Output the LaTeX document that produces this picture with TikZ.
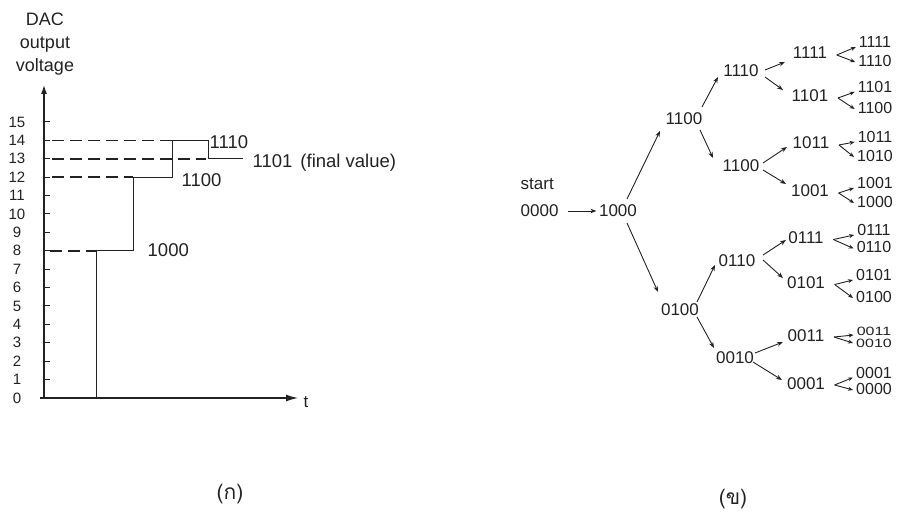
\documentclass[tikz,border=0pt]{standalone}
\usepackage{fontspec}
\setmainfont{Liberation Sans}
\newfontfamily\thaifont[Script=Thai]{Loma}
\usetikzlibrary{arrows.meta,calc}
\definecolor{ink}{HTML}{222222}
\begin{document}
\begin{tikzpicture}[x=1pt,y=1pt,
  every node/.style={text=ink},
  big/.style={font=\fontsize{18.5}{22}\selectfont, inner sep=1.5pt, text height=13pt, text depth=0pt},
  lbl/.style={font=\fontsize{17}{20}\selectfont, inner sep=1.5pt, text height=12pt, text depth=0pt},
  sm/.style={font=\fontsize{16}{18}\selectfont, inner sep=1pt, text height=11pt, text depth=0pt},
  axnum/.style={font=\fontsize{15}{17}\selectfont, inner sep=0pt},
  capt/.style={font=\thaifont\fontsize{21}{24}\selectfont, inner sep=1pt},
  arr/.style={draw=ink, line width=0.9pt, -{Stealth[length=6pt,width=4.5pt]}},
  arrs/.style={draw=ink, line width=0.9pt, -{Stealth[length=5pt,width=4pt]}},
  wave/.style={draw=ink, line width=1pt},
  axis/.style={draw=ink, line width=1.2pt},
  dsh/.style={draw=ink, line width=1.6pt, dash pattern=on 12pt off 6pt},
]
\useasboundingbox (0,0) rectangle (898,515);

% ---------- left: DAC output staircase ----------
\coordinate (O) at (44,117);
\coordinate (Ytop) at (44,430);
\coordinate (Xst) at (40,117);
\coordinate (Xend) at (298,117);
\draw[axis, -{Latex[length=9pt,width=6pt]}] (O) -- (Ytop);
\draw[axis, -{Latex[length=12pt,width=7pt]}] (Xst) -- (Xend);
\foreach \v in {1,...,15} \draw[wave] (44,{117+18.4*\v}) -- ++(6,0);
\foreach \v in {0,...,15} \node[axnum] (yl\v) at (17,{117+18.4*\v}) {\v};

\node[font=\fontsize{18}{23}\selectfont, align=center, inner sep=0pt] (dac) at (45,471) {DAC\\output\\voltage};
\node[lbl] (tlab) at (306,114) {t};

% dashed reference levels
\draw[dsh] (50,264.2) -- (96,264.2);
\draw[dsh] (52,337.8) -- (133,337.8);
\draw[dsh] (52,356.2) -- (206,356.2);
\draw[dsh] (52,374.6) -- (172,374.6);
% staircase
\draw[wave] (96,117) -- (96,264.2) -- (133,264.2) -- (133,337.8) -- (172,337.8)
  -- (172,374.6) -- (208,374.6) -- (208,356.2) -- (243,356.2);

\node[big, anchor=west] (L1110) at (208,373) {1110};
\node[big, anchor=west] (L1101) at (251,354) {1101\hspace{8pt}(final value)};
\node[big, anchor=west] (L1100) at (180,335) {1100};
\node[big, anchor=west] (L1000) at (146,265) {1000};

% ---------- right: SAR decision tree ----------
\node[lbl, anchor=west] (start) at (519,331) {start};
\node[lbl, anchor=west] (n0000) at (519,304) {0000};
\node[lbl] (n1000) at (618,304) {1000};

\node[lbl] (a1100) at (684,396) {1100};
\node[lbl] (a0100) at (680,206) {0100};

\node[lbl] (b1110) at (741,444) {1110};
\node[lbl] (b1100) at (741,349.5) {1100};
\node[lbl] (b0110) at (737,254) {0110};
\node[lbl] (b0010) at (735,158) {0010};

\node[lbl] (c1111) at (810,462) {1111};
\node[lbl] (c1101) at (810,419) {1101};
\node[lbl] (c1011) at (811,372) {1011};
\node[lbl] (c1001) at (810,324) {1001};
\node[lbl] (c0111) at (806,277.5) {0111};
\node[lbl] (c0101) at (806,232.5) {0101};
\node[lbl] (c0011) at (806,180) {0011};
\node[lbl] (c0001) at (806,132) {0001};

\node[sm] (sA1111) at (875,473) {1111};
\node[sm] (sB1111) at (875,454) {1110};
\node[sm] (sA1101) at (875,428) {1101};
\node[sm] (sB1101) at (875,407) {1100};
\node[sm] (sA1011) at (875,378) {1011};
\node[sm] (sB1011) at (875,359) {1010};
\node[sm] (sA1001) at (875,332) {1001};
\node[sm] (sB1001) at (875,313) {1000};
\node[sm] (sA0111) at (874,285) {0111};
\node[sm] (sB0111) at (874,267.5) {0110};
\node[sm] (sA0101) at (874,240) {0101};
\node[sm] (sB0101) at (874,218) {0100};
\node[sm] (sA0011) at (874,185) {\scalebox{1}[0.75]{0011}};
\node[sm] (sB0011) at (874,173) {\scalebox{1}[0.75]{0010}};
\node[sm] (sA0001) at (874,142.5) {0001};
\node[sm] (sB0001) at (874,126) {0000};

\draw[arr, shorten >=1pt] ([xshift=8pt]n0000.east) -- (n1000.west);
\draw[arr] ([shift={(9,12)}]n1000.center) -- ([shift={(-24,-12)}]a1100.center);
\draw[arr] ([shift={(9,-12)}]n1000.center) -- ([shift={(-22,17)}]a0100.center);

\draw[arr] ([shift={(18,12)}]a1100.center) -- ([shift={(-23,-6)}]b1110.center);
\draw[arr] ([shift={(16,-11)}]a1100.center) -- ([shift={(-28,7.5)}]b1100.center);
\draw[arr] ([shift={(17,7)}]a0100.center) -- ([shift={(-22,-4)}]b0110.center);
\draw[arr] ([shift={(17,-8)}]a0100.center) -- ([shift={(-21,9)}]b0010.center);

\draw[arr] ([shift={(24,1)}]b1110.center) -- ([shift={(-25,-9)}]c1111.center);
\draw[arr] ([shift={(24,-6)}]b1110.center) -- ([shift={(-27,6)}]c1101.center);
\draw[arr] ([shift={(22,2.5)}]b1100.center) -- ([shift={(-24,-4)}]c1011.center);
\draw[arr] ([shift={(22,-4.5)}]b1100.center) -- ([shift={(-24,7)}]c1001.center);
\draw[arr] ([shift={(26,6)}]b0110.center) -- ([shift={(-20,-2.5)}]c0111.center);
\draw[arr] ([shift={(26,1)}]b0110.center) -- ([shift={(-23,4.5)}]c0101.center);
\draw[arr] ([shift={(20,4)}]b0010.center) -- ([shift={(-23,-7)}]c0011.center);
\draw[arr] ([shift={(18,-5)}]b0010.center) -- ([shift={(-24,3)}]c0001.center);

\foreach \c in {1111,1101,1011,1001,0111,0101,0011,0001} {
  \coordinate (k\c) at ([shift={(8,-2)}]c\c.east);
  \draw[arrs] (k\c) -- ([shift={(-2,-5)}]sA\c.west);
  \draw[arrs] (k\c) -- ([shift={(-2,-1)}]sB\c.west);
}

% captions
\node[capt] (capA) at (230,21) {(ก)};
\node[capt] (capB) at (733,16) {(ข)};
\end{tikzpicture}
\end{document}
